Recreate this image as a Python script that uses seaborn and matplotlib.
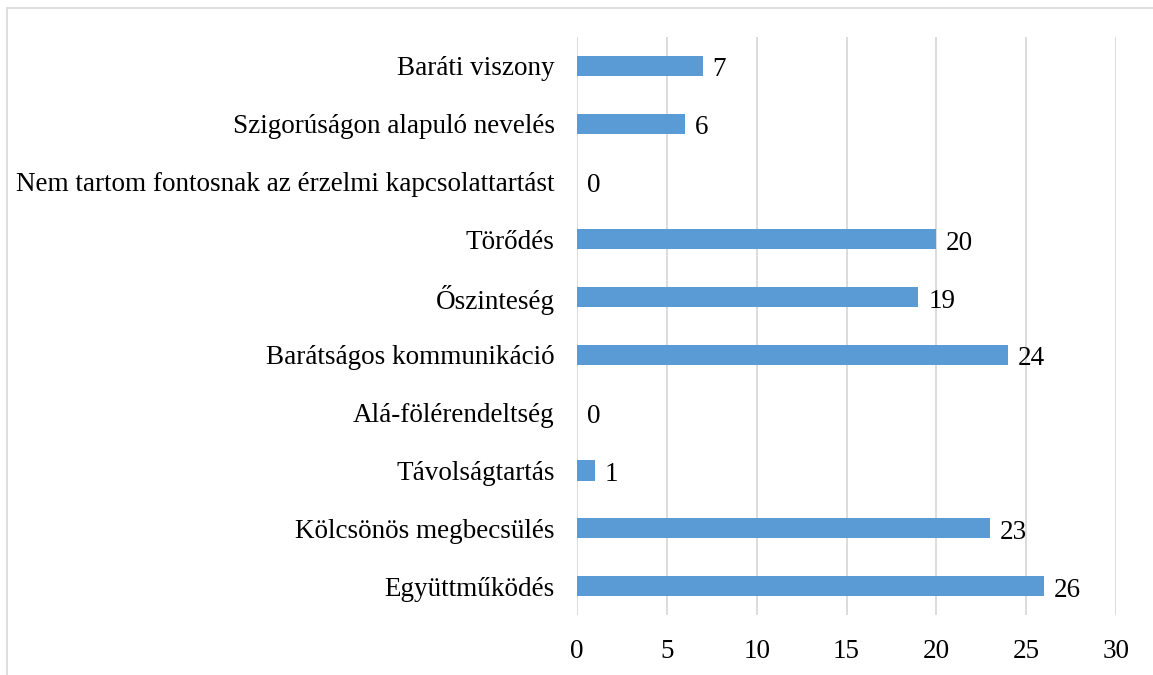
import matplotlib.pyplot as plt
import seaborn as sns
import pandas as pd
from matplotlib.lines import Line2D

categories = [
    "Baráti viszony",
    "Szigorúságon alapuló nevelés",
    "Nem tartom fontosnak az érzelmi kapcsolattartást",
    "Törődés",
    "Őszinteség",
    "Barátságos kommunikáció",
    "Alá-fölérendeltség",
    "Távolságtartás",
    "Kölcsönös megbecsülés",
    "Együttműködés",
]
values = [7, 6, 0, 20, 19, 24, 0, 1, 23, 26]
x_ticks = [0, 5, 10, 15, 20, 25, 30]

df = pd.DataFrame({"category": categories, "value": values})

sns.set_theme(style="white")
plt.rcParams["font.family"] = ["Liberation Serif", "DejaVu Serif"]

fs = 19.5
fig = plt.figure(figsize=(11.53, 6.75), dpi=100)
ax = fig.add_axes([577 / 1153, 1 - 615 / 675, (1116 - 577) / 1153, (615 - 37) / 675])

sns.barplot(data=df, x="value", y="category", color="#5B9BD5", saturation=1,
            width=0.35, orient="h", linewidth=0, edgecolor="none", ax=ax)

ax.set_xlim(0, 30)
ax.set_xticks(x_ticks)
ax.grid(axis="x", color="#d9d9d9", linewidth=1.3)
ax.set_axisbelow(True)
for s in ax.spines.values():
    s.set_visible(False)
ax.set_xlabel("")
ax.set_ylabel("")
ax.tick_params(axis="y", length=0, pad=16, labelsize=fs, labelcolor="#000000")
ax.tick_params(axis="x", length=0, pad=17, labelsize=fs, labelcolor="#000000")

for i, v in enumerate(values):
    ax.text(v + 0.55, i + 0.07, str(v), va="center", ha="left", fontsize=fs, color="#000000")

# outer chart frame (top and left edges visible)
fig.add_artist(Line2D([7 / 1153, 7 / 1153], [0, 1 - 8 / 675], transform=fig.transFigure,
                      color="#d9d9d9", linewidth=1.2))
fig.add_artist(Line2D([7 / 1153, 1], [1 - 8 / 675, 1 - 8 / 675], transform=fig.transFigure,
                      color="#d9d9d9", linewidth=1.2))

fig.savefig("out.png", dpi=100, facecolor="white")
